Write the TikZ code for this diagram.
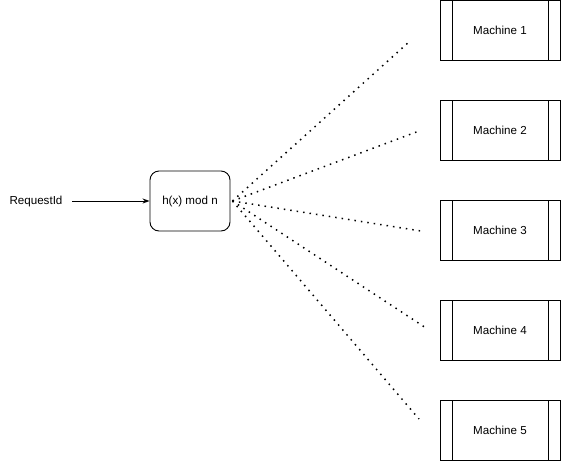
\documentclass[tikz,border=0pt]{standalone}
\usepackage{fontspec}
\setmainfont{Liberation Sans}
\usetikzlibrary{arrows.meta}
\begin{document}
\begin{tikzpicture}[x=1pt,y=-1pt,
  font=\fontsize{11.6}{14}\selectfont,
  hashbox/.style={draw, line width=0.9pt, rounded corners=9pt,
    minimum width=80pt, minimum height=60pt, inner sep=0pt},
  machine/.style={draw, line width=0.9pt, minimum width=120pt,
    minimum height=60pt, inner sep=0pt,
    path picture={
      \draw[line width=0.9pt]
        ([xshift=12pt]path picture bounding box.north west) --
        ([xshift=12pt]path picture bounding box.south west)
        ([xshift=-12pt]path picture bounding box.north east) --
        ([xshift=-12pt]path picture bounding box.south east);}},
  route/.style={line width=1.5pt, dash pattern=on 1.5pt off 5pt},
  feed/.style={line width=0.9pt, -{Stealth[length=7pt,width=5pt]}}]
\useasboundingbox (0,0) rectangle (561,461);

% hashing stage
\node (req) at (36,201) {RequestId};
\coordinate (reqend) at (72,201);
\node[hashbox] (hash) at (190,201) {h(x) mod n};
\draw[feed] (reqend) -- (hash.west);

% machines
\foreach \i in {1,...,5}
  \node[machine] (m\i) at (500,{30+100*(\i-1)}) {Machine \i};

% loose ends of the routes
\coordinate (e1) at (410,41);
\coordinate (e2) at (419,131);
\coordinate (e3) at (421,231);
\coordinate (e4) at (426,328);
\coordinate (e5) at (419,419);

\foreach \i in {1,...,5}
  \draw[route] ([xshift=2pt]hash.east) -- (e\i);
\end{tikzpicture}
\end{document}
